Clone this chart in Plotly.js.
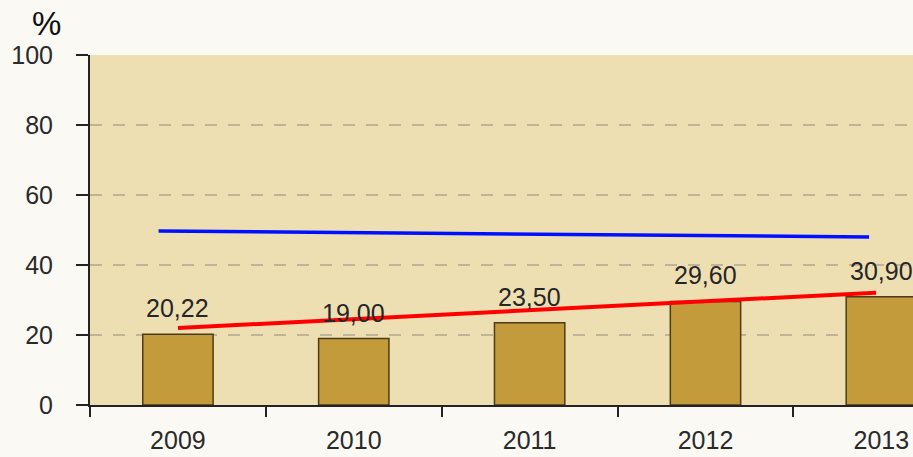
<!DOCTYPE html>
<html>
<head>
<meta charset="utf-8">
<script src="https://cdn.plot.ly/plotly-3.0.1.min.js"></script>
<style>
  html, body { margin: 0; padding: 0; background: #fbf9f4; overflow: hidden; }
  #chart { width: 913px; height: 457px; }
</style>
</head>
<body>
<div id="chart"></div>
<script>
const years = ['2009', '2010', '2011', '2012', '2013'];
const values = [20.22, 19.00, 23.50, 29.60, 30.90];

// two trend lines (x in years, y in %)
const blueX = [2008.89, 2012.93];
const blueY = [49.7, 48.0];
const redX = [2009.0, 2012.97];
const redY = [22.0, 32.1];

const labels = values.map(v => v.toFixed(2).replace('.', ','));
const font = 'Liberation Sans, Arial, sans-serif';

const bars = {
    type: 'bar',
    x: years,
    y: values,
    width: 0.4,
    marker: { color: '#c49b3b', line: { color: '#4a3b1c', width: 1.5 } },
    hoverinfo: 'skip'
};

const blue = {
    type: 'scatter', mode: 'lines', xaxis: 'x2',
    x: blueX, y: blueY,
    line: { color: '#0010ff', width: 3.5 }
};

const red = {
    type: 'scatter', mode: 'lines', xaxis: 'x2',
    x: redX, y: redY,
    line: { color: '#ff0000', width: 4 }
};

// value labels above the bars (category index as x)
const barLabels = values.map((v, i) => ({
    x: i, y: v, xref: 'x', yref: 'y',
    text: labels[i], showarrow: false,
    xanchor: 'center', yanchor: 'bottom', yshift: 10,
    font: { family: font, size: 25, color: '#262626' }
}));

const layout = {
    width: 913,
    height: 457,
    margin: { l: 90, r: 0, t: 55, b: 52 },
    paper_bgcolor: '#fbf9f4',
    plot_bgcolor: '#eedfb3',
    showlegend: false,
    font: { family: font, size: 25, color: '#2a2a2a' },
    xaxis: {
        type: 'category',
        range: [-0.5, 4.18],
        tickson: 'boundaries',
        ticks: 'outside',
        ticklen: 10,
        tickwidth: 2,
        tickcolor: '#222',
        showline: true,
        linecolor: '#222',
        linewidth: 2,
        showgrid: false,
        ticklabelstandoff: 12,
        tickfont: { family: font, size: 25, color: '#2a2a2a' },
        automargin: false
    },
    xaxis2: {
        overlaying: 'x',
        range: [2008.5, 2013.18],
        visible: false
    },
    yaxis: {
        range: [0, 100],
        dtick: 20,
        ticks: 'outside',
        ticklen: 12,
        tickwidth: 2,
        tickcolor: '#222',
        showline: true,
        linecolor: '#222',
        linewidth: 2,
        showgrid: true,
        gridcolor: '#bfb495',
        gridwidth: 2,
        griddash: '12px,11px',
        zeroline: false,
        ticklabelstandoff: 18,
        tickfont: { family: font, size: 25, color: '#2a2a2a' },
        automargin: false
    },
    annotations: [{
        text: '%', xref: 'paper', yref: 'paper',
        x: -0.053, y: 1.091, xanchor: 'center', yanchor: 'middle',
        showarrow: false,
        font: { family: font, size: 33, color: '#111' }
    }].concat(barLabels)
};

Plotly.newPlot('chart', [bars, blue, red], layout, { displayModeBar: false, staticPlot: true });
</script>
</body>
</html>
